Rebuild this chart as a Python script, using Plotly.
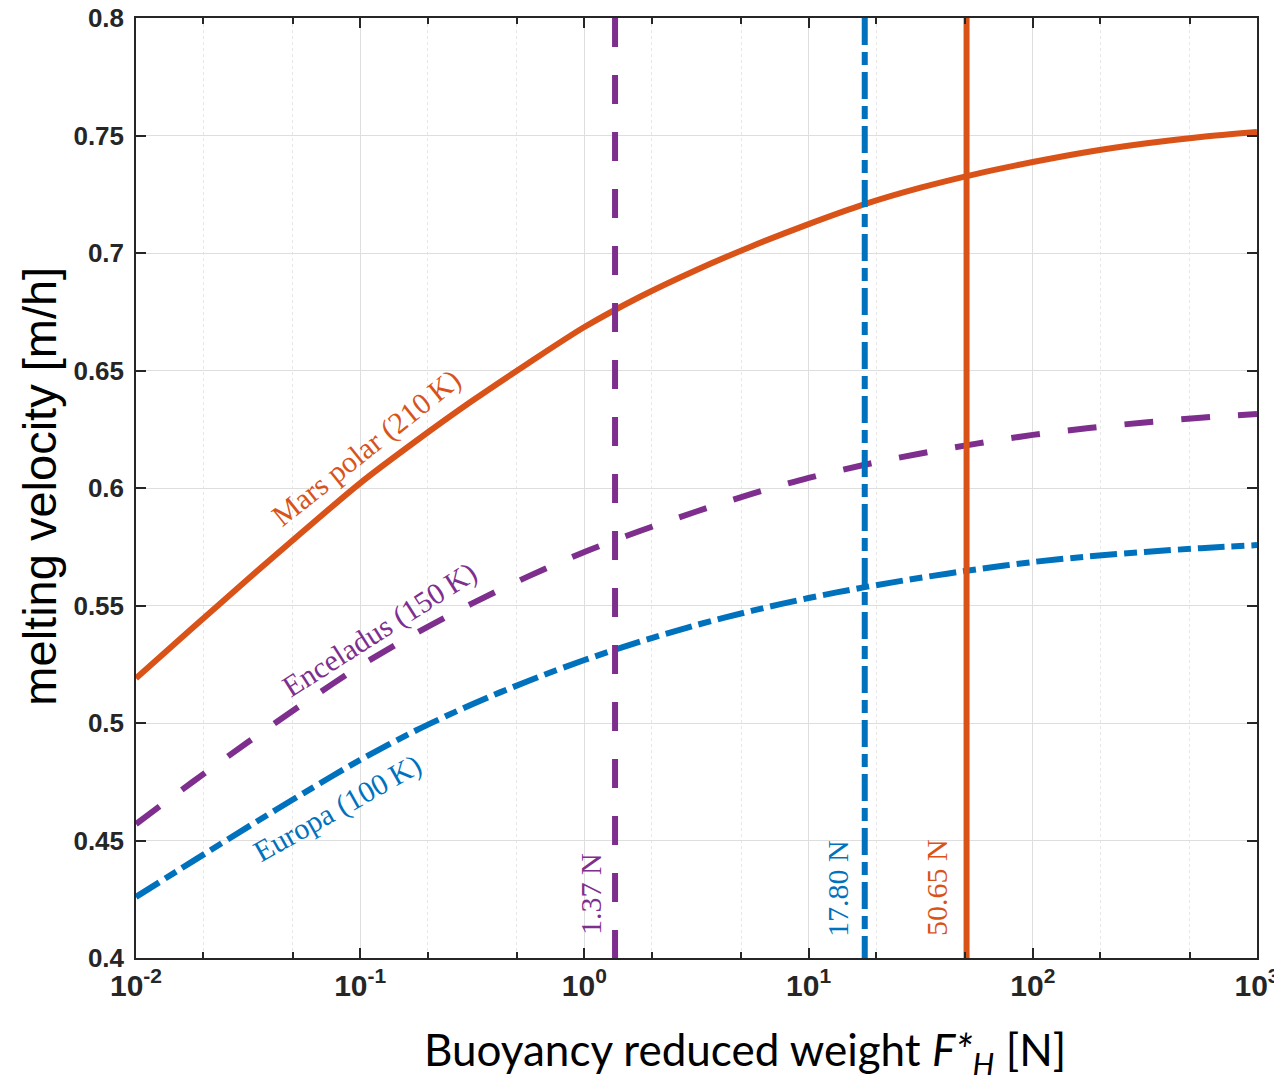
import plotly.graph_objects as go

# ---- data ----
force_N = [0.01, 0.0178, 0.0316, 0.0562, 0.1, 0.178, 0.316, 0.562, 1.0, 1.78, 3.16,
           5.62, 10.0, 17.8, 31.6, 56.2, 100.0, 178.0, 316.0, 562.0, 1000.0]

mars_v = [0.519, 0.5403, 0.5613, 0.5819, 0.6021, 0.6201, 0.6371, 0.6531, 0.6685, 0.6815, 0.6928,
          0.7030, 0.7123, 0.7208, 0.7278, 0.7337, 0.7387, 0.7431, 0.7466, 0.7494, 0.7515]
enceladus_v = [0.4570, 0.4748, 0.4919, 0.5085, 0.5243, 0.5383, 0.5509, 0.5624, 0.5728, 0.5818, 0.5900,
               0.5976, 0.6043, 0.6099, 0.6147, 0.6189, 0.6226, 0.6255, 0.6279, 0.6299, 0.6315]
europa_v = [0.426, 0.4410, 0.4558, 0.4703, 0.4843, 0.4969, 0.5080, 0.5179, 0.5268, 0.5347, 0.5417,
            0.5478, 0.5532, 0.5578, 0.5618, 0.5654, 0.5685, 0.5709, 0.5728, 0.5744, 0.5757]

threshold_N = {"Enceladus": 1.37, "Europa": 17.80, "Mars": 50.65}
threshold_labels = ["1.37 N", "17.80 N", "50.65 N"]
curve_labels = ["Mars polar (210\u2009K)", "Enceladus (150\u2009K)", "Europa (100\u2009K)"]

x_tickvals = [0.01, 0.1, 1, 10, 100, 1000]
x_ticktext = ["10<sup>-2</sup>", "10<sup>-1</sup>", "10<sup>0</sup>",
              "10<sup>1</sup>", "10<sup>2</sup>", "10<sup>3</sup>"]
y_tickvals = [0.4, 0.45, 0.5, 0.55, 0.6, 0.65, 0.7, 0.75, 0.8]
y_ticktext = ["0.4", "0.45", "0.5", "0.55", "0.6", "0.65", "0.7", "0.75", "0.8"]
y_range = [0.4, 0.8]
y_span_top_down = [0.8, 0.4]

x_title = "Buoyancy reduced weight <i>F*<sub>H</sub></i> [N]"
y_title = "melting velocity [m/h]"

ORANGE = "#D95319"
BLUE = "#0072BD"
PURPLE = "#7E2F8E"
LW = 6
DASH = "29px,28px"
DASHDOT = "27px,7px,13px,7px"

fig = go.Figure()

fig.add_trace(go.Scatter(x=force_N, y=mars_v, mode="lines", line=dict(color=ORANGE, width=LW, shape="spline", smoothing=0.8)))
fig.add_trace(go.Scatter(x=force_N, y=enceladus_v, mode="lines", line=dict(color=PURPLE, width=LW, dash=DASH, shape="spline", smoothing=0.8)))
fig.add_trace(go.Scatter(x=force_N, y=europa_v, mode="lines", line=dict(color=BLUE, width=LW, dash=DASHDOT, shape="spline", smoothing=0.8)))

fig.add_trace(go.Scatter(x=[threshold_N["Enceladus"]] * 2, y=y_span_top_down, mode="lines", line=dict(color=PURPLE, width=LW, dash=DASH)))
fig.add_trace(go.Scatter(x=[threshold_N["Europa"]] * 2, y=y_span_top_down, mode="lines", line=dict(color=BLUE, width=LW, dash=DASHDOT)))
fig.add_trace(go.Scatter(x=[threshold_N["Mars"]] * 2, y=y_span_top_down, mode="lines", line=dict(color=ORANGE, width=LW)))

serif = "Liberation Serif"
ann = [
    dict(text=curve_labels[0], x=-0.974, y=0.617, textangle=-38.6, color=ORANGE),
    dict(text=curve_labels[1], x=-0.916, y=0.5396, textangle=-32.5, color=PURPLE),
    dict(text=curve_labels[2], x=-1.100, y=0.4638, textangle=-29.4, color=BLUE),
    dict(text=threshold_labels[0], x=0.025, y=0.4272, textangle=-90, color=PURPLE),
    dict(text=threshold_labels[1], x=1.131, y=0.4298, textangle=-90, color=BLUE),
    dict(text=threshold_labels[2], x=1.573, y=0.4298, textangle=-90, color=ORANGE),
]
for a in ann:
    fig.add_annotation(x=a["x"], y=a["y"], xref="x", yref="y", text=a["text"], showarrow=False,
                       textangle=a["textangle"], xanchor="center", yanchor="middle",
                       font=dict(family=serif, size=30, color=a["color"]))

# axis titles
fig.add_annotation(x=0.543, y=-0.101, xref="paper", yref="paper", text=x_title, showarrow=False,
                   xanchor="center", yanchor="middle", font=dict(family="Lato", size=44, color="black"))
fig.add_annotation(x=-0.0856, y=0.5015, xref="paper", yref="paper", text=y_title, showarrow=False,
                   textangle=-90, xanchor="center", yanchor="middle",
                   font=dict(family="Liberation Sans", size=47, color="black"))

# the page body has an 8px margin, so the figure is offset by 8px inside the window
fig.update_layout(
    width=1274, height=1076,
    margin=dict(l=128, r=25, t=10, b=126),
    paper_bgcolor="white", plot_bgcolor="white",
    showlegend=False,
    font=dict(family="Liberation Sans"),
)

fig.update_xaxes(
    type="log", range=[-2, 3], automargin=False, ticklabeloverflow="allow",
    tickvals=x_tickvals, ticktext=x_ticktext,
    tickfont=dict(family="Liberation Sans", size=30, color="#262626", weight="bold"),
    ticks="inside", ticklen=10, tickcolor="#262626", tickwidth=1.5,
    showline=True, linecolor="#262626", linewidth=1.5, mirror="ticks",
    showgrid=True, gridcolor="#dedede", gridwidth=1,
    minor=dict(ticks="inside", ticklen=6, tickcolor="#262626", showgrid=True,
               gridcolor="#e6e6e6", griddash="dot", gridwidth=1),
    zeroline=False,
)
fig.update_yaxes(
    range=y_range, automargin=False, ticklabeloverflow="allow",
    tickvals=y_tickvals, ticktext=y_ticktext, ticklabelstandoff=5,
    tickfont=dict(family="Liberation Sans", size=26, color="#262626", weight="bold"),
    ticks="inside", ticklen=10, tickcolor="#262626", tickwidth=1.5,
    showline=True, linecolor="#262626", linewidth=1.5, mirror="ticks",
    showgrid=True, gridcolor="#dedede", gridwidth=1,
    zeroline=False,
)

fig.write_html("out.html")
